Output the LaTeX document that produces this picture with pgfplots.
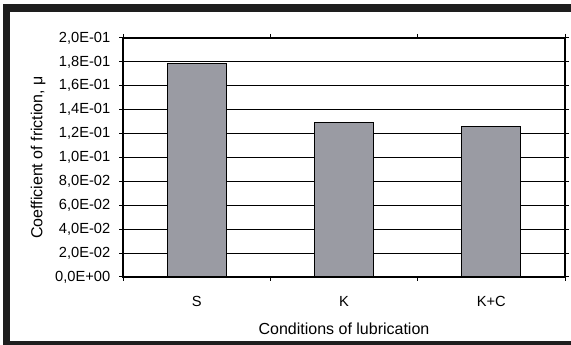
\documentclass[border=0pt]{standalone}
\usepackage{fontspec}
\setmainfont{Liberation Sans}
\usepackage{pgfplots}
\pgfplotsset{compat=1.18}
\definecolor{barfill}{HTML}{9A9BA3}
\definecolor{framec}{HTML}{1E1E1E}
\begin{document}
\begin{tikzpicture}
\useasboundingbox (0,0) rectangle (428.25pt,258.75pt);
\fill[framec] (2.25pt,0pt) rectangle (7.5pt,255.75pt);
\fill[framec] (2.25pt,249.75pt) rectangle (428.25pt,255.75pt);
\fill[framec] (2.25pt,0pt) rectangle (428.25pt,3pt);
\begin{axis}[
  at={(92.25pt,51pt)}, anchor=south west,
  scale only axis, width=331.5pt, height=179.25pt,
  xmin=-0.5, xmax=2.5, ymin=0, ymax=0.2,
  ybar, bar width=0.4,
  ytick={0,0.02,0.04,0.06,0.08,0.1,0.12,0.14,0.16,0.18,0.2},
  yticklabels={{0,0E+00},{2,0E-02},{4,0E-02},{6,0E-02},{8,0E-02},{1,0E-01},{1,2E-01},{1,4E-01},{1,6E-01},{1,8E-01},{2,0E-01}},
  xtick={0,1,2}, xticklabels={S,K,K+C},
  minor xtick={-0.5,0.5,1.5,2.5},
  major x tick style={draw=none},
  tick align=outside, major tick length=3pt, minor tick length=3pt,
  tick style={black, line width=0.75pt},
  ymajorgrids, grid style={black, line width=0.75pt},
  axis line style={black, line width=0.9pt},
  tick label style={font=\fontsize{11}{13}\selectfont},
  yticklabel style={xshift=-3pt},
  xticklabel style={yshift=-8pt},
  label style={font=\fontsize{12}{14}\selectfont},
  xlabel={Conditions of lubrication},
  xlabel style={at={(axis description cs:0.5,0)}, anchor=base, yshift=-43.5pt},
  ylabel={Coefficient of friction, μ},
  ylabel style={at={(axis description cs:0,0.5)}, anchor=center, xshift=0pt, yshift=63.75pt},
]
\addplot[fill=barfill, draw=black, line width=0.75pt] coordinates {(0,0.179) (1,0.1297) (2,0.126)};
\end{axis}
\end{tikzpicture}
\end{document}
